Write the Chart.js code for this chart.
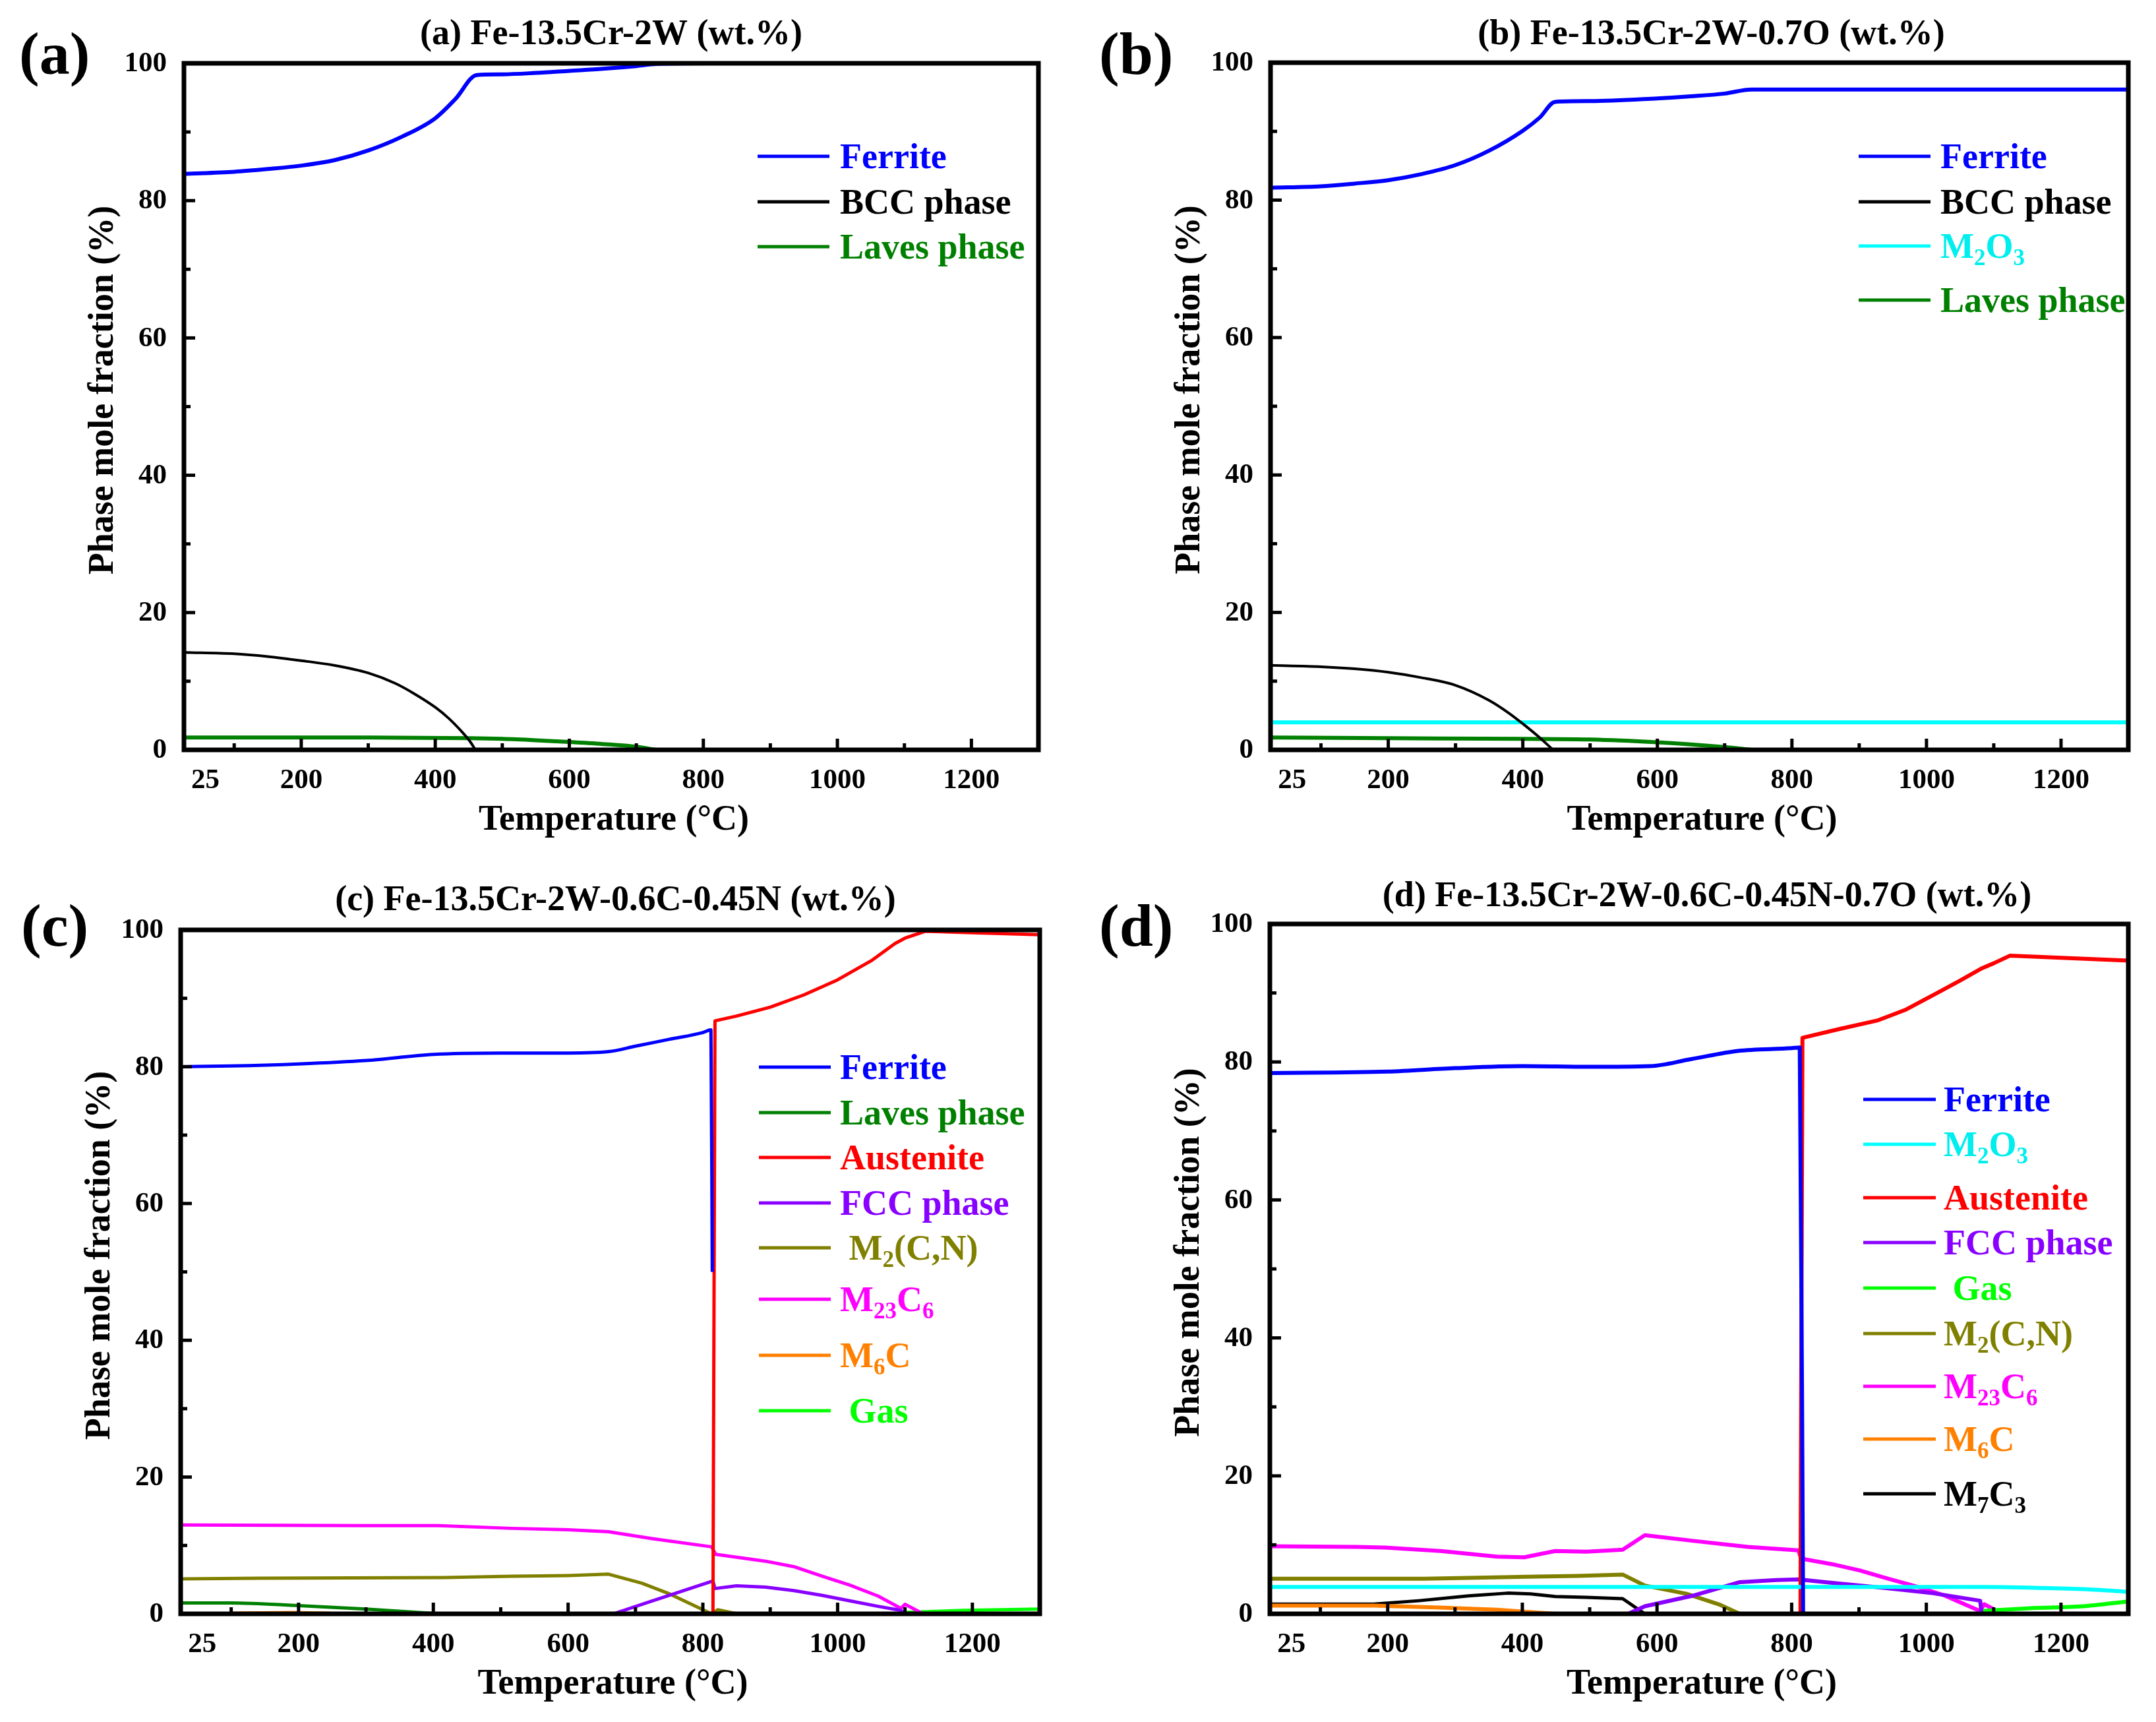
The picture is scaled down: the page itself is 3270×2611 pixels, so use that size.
<!DOCTYPE html>
<html>
<head>
<meta charset="utf-8">
<title>Phase mole fraction vs temperature</title>
<script src="https://cdn.jsdelivr.net/npm/chart.js@4.4.1/dist/chart.umd.min.js"></script>
<style>
    html, body { margin: 0; padding: 0; background: #ffffff; }
    #page { position: relative; width: 3270px; height: 2611px; background: #ffffff; }
    canvas { position: absolute; }
</style>
</head>
<body>
<div id="page">
    <canvas id="chartA" width="1635" height="1305" style="left:0px;top:0px"></canvas>
    <canvas id="chartB" width="1635" height="1305" style="left:1635px;top:0px"></canvas>
    <canvas id="chartC" width="1635" height="1306" style="left:0px;top:1305px"></canvas>
    <canvas id="chartD" width="1635" height="1306" style="left:1635px;top:1305px"></canvas>
</div>
<script>
/**
 * Phase mole fraction (%) vs temperature (°C), four alloys.
 * Each series is a list of [temperature, fraction] pairs.
 */

// Axis ticks
const xMajorTicks = [200, 400, 600, 800, 1000, 1200];
const xMinorTicks = [100, 300, 500, 700, 900, 1100, 1300];
const yMajorTicks = [0, 20, 40, 60, 80, 100];
const yMinorTicks = [10, 30, 50, 70, 90];
const xFirstLabel = '25';

// (a) Fe-13.5Cr-2W
const aFerrite = [[25, 83.9], [100, 84.2], [150, 84.6], [200, 85.1], [250, 85.9], [300, 87.3], [350, 89.3],
    [400, 92.0], [430, 94.8], [462, 98.3], [500, 98.4], [550, 98.6], [600, 98.9], [650, 99.2], [700, 99.6],
    [730, 99.9], [800, 100], [1300, 100]];
const aBcc = [[25, 14.2], [100, 14.0], [150, 13.6], [200, 13.0], [250, 12.3], [300, 11.2], [340, 9.7],
    [370, 8.1], [400, 6.2], [420, 4.6], [440, 2.6], [452, 1.2], [460, 0]];
const aLaves = [[25, 1.8], [300, 1.8], [450, 1.7], [500, 1.6], [550, 1.4], [600, 1.15], [650, 0.85],
    [700, 0.45], [730, 0]];

// (b) Fe-13.5Cr-2W-0.7O
const bFerrite = [[25, 81.8], [100, 82.0], [150, 82.4], [200, 82.9], [250, 83.8], [300, 85.1], [350, 87.2],
    [400, 90.1], [425, 92.0], [448, 94.3], [500, 94.4], [600, 94.8], [650, 95.1], [700, 95.5], [740, 96.1],
    [1300, 96.1]];
const bBcc = [[25, 12.3], [100, 12.1], [150, 11.8], [200, 11.3], [250, 10.5], [300, 9.4], [350, 7.2],
    [380, 5.3], [400, 3.8], [420, 2.2], [435, 0.9], [445, 0]];
const bM2O3 = [[25, 4.0], [1300, 4.0]];
const bLaves = [[25, 1.8], [200, 1.7], [400, 1.6], [500, 1.5], [600, 1.1], [650, 0.8], [700, 0.4], [740, 0]];

// (c) Fe-13.5Cr-2W-0.6C-0.45N
const cFerrite = [[25, 80.0], [100, 80.1], [200, 80.4], [300, 80.9], [400, 81.8], [500, 82.0], [600, 82.0],
    [660, 82.2], [700, 83.0], [750, 84.0], [800, 85.0], [812, 85.4], [814, 50]];
const cLaves = [[25, 1.6], [100, 1.6], [200, 1.2], [300, 0.7], [380, 0.2], [408, 0]];
const cAustenite = [[815, 0], [818, 86.7], [850, 87.4], [900, 88.7], [950, 90.5], [1000, 92.7], [1050, 95.5],
    [1085, 98.0], [1100, 98.8], [1130, 99.8], [1200, 99.6], [1300, 99.3]];
const cFcc = [[667, 0], [725, 1.9], [815, 4.8], [818, 3.7], [850, 4.1], [893, 3.9], [935, 3.4], [977, 2.7],
    [1018, 1.9], [1060, 1.1], [1094, 0.5], [1100, 0]];
const cM2CN = [[25, 5.1], [140, 5.2], [416, 5.3], [516, 5.5], [600, 5.6], [660, 5.8], [709, 4.5], [751, 2.9],
    [813, 0], [822, 0.6], [851, 0]];
const cM23C6 = [[25, 13.0], [300, 12.9], [408, 12.9], [516, 12.5], [600, 12.3], [660, 12.0], [725, 11.0],
    [813, 9.8], [819, 8.7], [893, 7.7], [935, 6.9], [977, 5.5], [1018, 4.2], [1060, 2.6], [1094, 0.8],
    [1100, 1.4], [1127, 0]];
const cM6C = [[100, 0.1], [190, 0.2], [247, 0.1]];
const cGas = [[1098, 0.2], [1186, 0.5], [1300, 0.7]];

// (d) Fe-13.5Cr-2W-0.6C-0.45N-0.7O
const dFerrite = [[25, 78.4], [200, 78.6], [300, 79.1], [400, 79.4], [500, 79.3], [590, 79.4], [650, 80.4],
    [720, 81.6], [800, 82.0], [812, 82.1], [817, 0]];
const dM2O3 = [[25, 3.9], [1084, 3.9], [1192, 3.7], [1250, 3.5], [1300, 3.2]];
const dAustenite = [[813, 0], [816, 83.5], [872, 84.8], [927, 86.0], [970, 87.6], [1016, 90.0], [1050, 91.8],
    [1083, 93.6], [1100, 94.3], [1124, 95.4], [1200, 95.1], [1300, 94.7]];
const dFcc = [[557, 0], [582, 1.1], [652, 2.6], [723, 4.6], [777, 4.9], [810, 5.0], [860, 4.5], [943, 3.7],
    [1009, 3.0], [1080, 1.9], [1082, 0]];
const dGas = [[1082, 0.4], [1150, 0.8], [1233, 1.1], [1300, 1.8]];
const dM2CN = [[25, 5.1], [254, 5.1], [420, 5.4], [482, 5.5], [549, 5.7], [582, 4.1], [644, 2.9], [694, 1.3],
    [723, 0]];
const dM23C6 = [[25, 9.8], [154, 9.7], [196, 9.6], [279, 9.1], [362, 8.3], [403, 8.2], [428, 8.7], [449, 9.1],
    [495, 9.0], [549, 9.3], [582, 11.4], [652, 10.6], [735, 9.7], [810, 9.2], [814, 8.0], [860, 7.2],
    [901, 6.3], [943, 5.1], [984, 4.0], [1026, 2.7], [1080, 0.4], [1086, 1.4], [1113, 0]];
const dM6C = [[25, 1.2], [179, 1.2], [279, 0.9], [362, 0.6], [449, 0]];
const dM7C3 = [[25, 1.4], [179, 1.4], [246, 1.9], [320, 2.6], [378, 3.0], [412, 2.9], [449, 2.5], [495, 2.4],
    [549, 2.2], [582, 0]];

const FONT = '"Liberation Serif", "Times New Roman", Times, serif';
const BLUE = '#0000ff', BLACK = '#000000', GREEN = '#008000', CYAN = '#00ffff', RED = '#ff0000',
    VIOLET = '#8800ff', OLIVE = '#808000', MAGENTA = '#ff00ff', ORANGE = '#ff8000', LIME = '#00ff00';

const panels = [
    {
        id: 'chartA', letter: '(a)', title: '(a) Fe-13.5Cr-2W (wt.%)',
        padding: { left: 279, top: 96, right: 60, bottom: 168 },
        letterPos: [29, 112], titleY: 67, titleShift: 0,
        legend: { x1: 1149, x2: 1258, tx: 1274, rows: [237, 306, 374] },
        series: [
            { label: 'Ferrite', data: aFerrite, color: BLUE, width: 6, smooth: true },
            { label: 'BCC phase', data: aBcc, color: BLACK, width: 4, smooth: true },
            { label: 'Laves phase', data: aLaves, color: GREEN, width: 6, smooth: true }
        ]
    },
    {
        id: 'chartB', letter: '(b)', title: '(b) Fe-13.5Cr-2W-0.7O (wt.%)',
        padding: { left: 292, top: 95, right: 42, bottom: 168 },
        letterPos: [32, 112], titleY: 67, titleShift: 18,
        legend: { x1: 1184, x2: 1293, tx: 1308, rows: [237, 306, 373, 455] },
        series: [
            { label: 'Ferrite', data: bFerrite, color: BLUE, width: 6, smooth: true },
            { label: 'BCC phase', data: bBcc, color: BLACK, width: 4, smooth: true },
            { label: 'M_2O_3', data: bM2O3, color: CYAN, width: 6, smooth: false },
            { label: 'Laves phase', data: bLaves, color: GREEN, width: 6, smooth: true }
        ]
    },
    {
        id: 'chartC', letter: '(c)', title: '(c) Fe-13.5Cr-2W-0.6C-0.45N (wt.%)',
        padding: { left: 274, top: 105, right: 58, bottom: 164 },
        letterPos: [32, 129], titleY: 75, titleShift: 8,
        legend: { x1: 1151, x2: 1260, tx: 1274, rows: [313, 382, 450, 519, 587, 665, 750, 834] },
        series: [
            { label: 'Ferrite', data: cFerrite, color: BLUE, width: 5, smooth: true },
            { label: 'Laves phase', data: cLaves, color: GREEN, width: 5, smooth: true },
            { label: 'Austenite', data: cAustenite, color: RED, width: 5, smooth: false },
            { label: 'FCC phase', data: cFcc, color: VIOLET, width: 5, smooth: false },
            { label: ' M_2(C,N)', data: cM2CN, color: OLIVE, width: 5, smooth: false },
            { label: 'M_23C_6', data: cM23C6, color: MAGENTA, width: 5, smooth: false },
            { label: 'M_6C', data: cM6C, color: ORANGE, width: 5, smooth: false },
            { label: ' Gas', data: cGas, color: LIME, width: 5, smooth: false }
        ]
    },
    {
        id: 'chartD', letter: '(d)', title: '(d) Fe-13.5Cr-2W-0.6C-0.45N-0.7O (wt.%)',
        padding: { left: 291, top: 96, right: 42, bottom: 164 },
        letterPos: [32, 129], titleY: 69, titleShift: 12,
        legend: { x1: 1191, x2: 1301, tx: 1313, rows: [362, 430, 511, 579, 648, 717, 797, 877, 960] },
        series: [
            { label: 'Ferrite', data: dFerrite, color: BLUE, width: 6, smooth: true },
            { label: 'M_2O_3', data: dM2O3, color: CYAN, width: 6, smooth: true },
            { label: 'Austenite', data: dAustenite, color: RED, width: 6, smooth: false },
            { label: 'FCC phase', data: dFcc, color: VIOLET, width: 6, smooth: false },
            { label: ' Gas', data: dGas, color: LIME, width: 6, smooth: true },
            { label: 'M_2(C,N)', data: dM2CN, color: OLIVE, width: 6, smooth: false },
            { label: 'M_23C_6', data: dM23C6, color: MAGENTA, width: 6, smooth: false },
            { label: 'M_6C', data: dM6C, color: ORANGE, width: 6, smooth: false },
            { label: 'M_7C_3', data: dM7C3, color: BLACK, width: 5, smooth: false }
        ]
    }
];

/**
 * Draw text where "_digits" becomes a subscript
 */
function drawRichText(ctx, text, x, y, size, color) {
    const parts = text.split(/(_\d+)/);
    let cx = x;
    ctx.fillStyle = color;
    ctx.textAlign = 'left';
    ctx.textBaseline = 'alphabetic';
    parts.forEach(function(part) {
        if (!part) return;
        if (part[0] === '_') {
            const sub = part.slice(1);
            ctx.font = 'bold ' + Math.round(size * 0.64) + 'px ' + FONT;
            ctx.fillText(sub, cx, y + size * 0.2);
            cx += ctx.measureText(sub).width;
        } else {
            ctx.font = 'bold ' + size + 'px ' + FONT;
            ctx.fillText(part, cx, y);
            cx += ctx.measureText(part).width;
        }
    });
}

// Frame, inward ticks, tick labels, titles and legend
const framePlugin = {
    id: 'frame',
    afterDraw: function(chart, args, opts) {
        const ctx = chart.ctx;
        const area = chart.chartArea;
        const xs = chart.scales.x;
        const ys = chart.scales.y;
        const panel = opts.panel;

        ctx.save();
        ctx.strokeStyle = '#000';
        ctx.lineCap = 'butt';

        function tick(x1, y1, x2, y2) {
            ctx.beginPath();
            ctx.moveTo(x1, y1);
            ctx.lineTo(x2, y2);
            ctx.stroke();
        }

        ctx.lineWidth = 5;
        xMajorTicks.forEach(function(v) {
            const px = xs.getPixelForValue(v);
            tick(px, area.bottom, px, area.bottom - 17);
        });
        xMinorTicks.forEach(function(v) {
            const px = xs.getPixelForValue(v);
            tick(px, area.bottom, px, area.bottom - 10);
        });
        yMajorTicks.forEach(function(v) {
            const py = ys.getPixelForValue(v);
            tick(area.left, py, area.left + 17, py);
        });
        yMinorTicks.forEach(function(v) {
            const py = ys.getPixelForValue(v);
            tick(area.left, py, area.left + 10, py);
        });

        ctx.lineWidth = 7;
        ctx.strokeRect(area.left, area.top, area.right - area.left, area.bottom - area.top);

        // Tick labels
        ctx.fillStyle = '#000';
        ctx.font = 'bold 43px ' + FONT;
        ctx.textAlign = 'center';
        ctx.textBaseline = 'alphabetic';
        xMajorTicks.forEach(function(v) {
            ctx.fillText(String(v), xs.getPixelForValue(v), area.bottom + 58);
        });
        ctx.fillText(xFirstLabel, xs.getPixelForValue(57), area.bottom + 58);

        ctx.textAlign = 'right';
        ctx.textBaseline = 'middle';
        yMajorTicks.forEach(function(v) {
            ctx.fillText(String(v), area.left - 26, ys.getPixelForValue(v) + 1);
        });

        // Axis titles
        const midX = (area.left + area.right) / 2;
        ctx.font = 'bold 54px ' + FONT;
        ctx.textAlign = 'center';
        ctx.textBaseline = 'alphabetic';
        ctx.fillText('Temperature (°C)', midX + 4, area.bottom + 121);

        ctx.save();
        ctx.translate(area.left - 122, (area.top + area.bottom) / 2 - 25);
        ctx.rotate(-Math.PI / 2);
        ctx.textBaseline = 'middle';
        ctx.fillText('Phase mole fraction (%)', 0, 0);
        ctx.restore();

        // Panel title and letter
        ctx.fillText(panel.title, midX + panel.titleShift, panel.titleY);
        ctx.font = 'bold 92px ' + FONT;
        ctx.textAlign = 'left';
        ctx.fillText(panel.letter, panel.letterPos[0], panel.letterPos[1]);

        // Legend
        const lg = panel.legend;
        panel.series.forEach(function(s, i) {
            const y = lg.rows[i];
            ctx.strokeStyle = s.color;
            ctx.lineWidth = 5;
            tick(lg.x1, y, lg.x2, y);
            const textColor = s.color === CYAN ? '#00eeee' : s.color;
            drawRichText(ctx, s.label, lg.tx, y + 18, 54, textColor);
        });

        ctx.restore();
    }
};

panels.forEach(function(panel) {
    const canvas = document.getElementById(panel.id);
    new Chart(canvas.getContext('2d'), {
        type: 'line',
        data: {
            datasets: panel.series.map(function(s) {
                return {
                    label: s.label,
                    data: s.data.map(function(p) { return { x: p[0], y: p[1] }; }),
                    borderColor: s.color,
                    borderWidth: s.width,
                    borderJoinStyle: 'round',
                    pointRadius: 0,
                    fill: false,
                    cubicInterpolationMode: s.smooth ? 'monotone' : 'default',
                    tension: 0
                };
            })
        },
        options: {
            responsive: false,
            animation: false,
            devicePixelRatio: 1,
            layout: { padding: panel.padding },
            scales: {
                x: { type: 'linear', min: 25, max: 1300, display: false },
                y: { type: 'linear', min: 0, max: 100, display: false }
            },
            plugins: {
                legend: { display: false },
                tooltip: { enabled: false },
                frame: { panel: panel }
            }
        },
        plugins: [framePlugin]
    });
});
</script>
</body>
</html>
